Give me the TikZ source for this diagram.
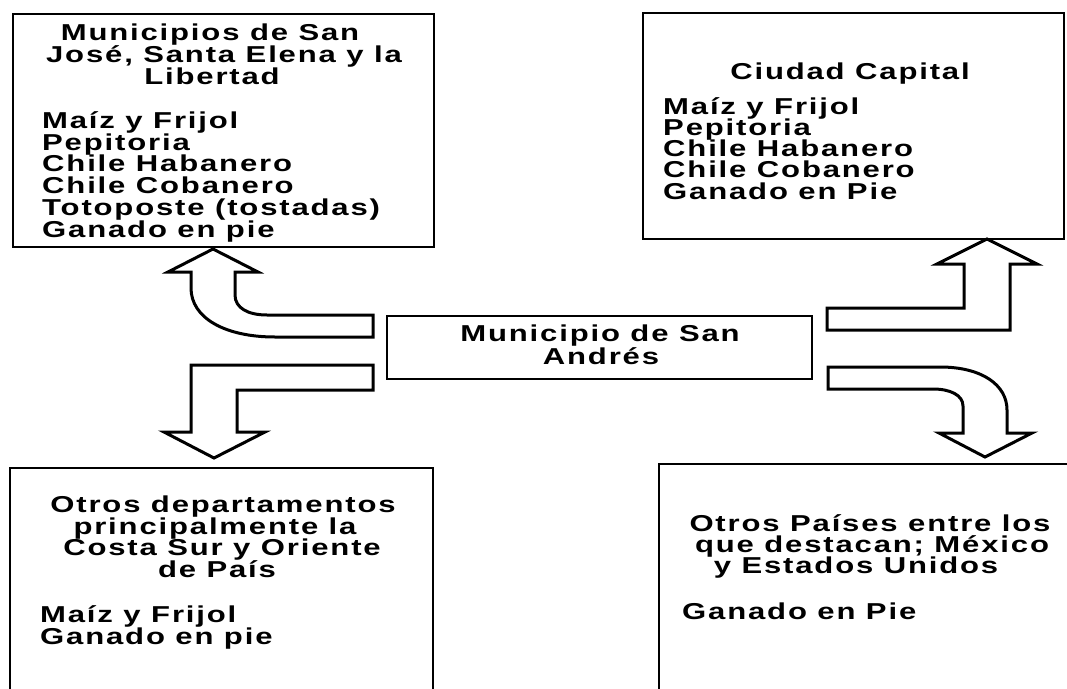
\documentclass[tikz,border=0pt]{standalone}
\usepackage{fontspec}
\setmainfont{Liberation Sans}[FakeStretch=1.35,LetterSpace=8]
\begin{document}
\begin{tikzpicture}[x=1pt,y=-1pt,
  box/.style={draw, line width=2pt, inner sep=0pt},
  blk/.style={draw, line width=3pt, line join=miter},
  txt/.style={inner sep=0pt, font=\bfseries\fontsize{23}{23}\selectfont},
  lt/.style={txt, anchor=base west},
  ct/.style={txt, anchor=base}]
\useasboundingbox (0,0) rectangle (1067,688);
\clip (0,0) rectangle (1067,688);
% boxes
\node[box, minimum width=421pt, minimum height=233pt] (tl) at (223.5,130.5) {};
\node[box, minimum width=421pt, minimum height=226pt] (tr) at (853.5,126) {};
\node[box, minimum width=425pt, minimum height=63pt] (c) at (599.5,347.5) {};
\node[box, minimum width=423pt, minimum height=252pt] (bl) at (221.5,594) {};
\node[box, minimum width=431pt, minimum height=256pt] (br) at (874.5,592) {};
% top-left texts
\node[ct] (tl1) at (210,40) {Municipios de San};
\node[ct] (tl2) at (224,62) {José, Santa Elena y la};
\node[ct] (tl3) at (212,84) {Libertad};
\node[lt] (tl4) at (42,128) {Maíz y Frijol};
\node[lt] (tl5) at (42,150) {Pepitoria};
\node[lt] (tl6) at (42,171) {Chile Habanero};
\node[lt] (tl7) at (42,193) {Chile Cobanero};
\node[lt] (tl8) at (42,215) {Totoposte (tostadas)};
\node[lt] (tl9) at (42,237) {Ganado en pie};
% top-right texts
\node[ct] (tr1) at (850,79) {Ciudad Capital};
\node[lt] (tr2) at (663,114) {Maíz y Frijol};
\node[lt] (tr3) at (663,135) {Pepitoria};
\node[lt] (tr4) at (663,156) {Chile Habanero};
\node[lt] (tr5) at (663,177) {Chile Cobanero};
\node[lt] (tr6) at (663,199) {Ganado en Pie};
% center texts
\node[ct] (c1) at (600,341) {Municipio de San};
\node[ct] (c2) at (601,364) {Andrés};
% bottom-left texts
\node[ct] (bl1) at (223,512) {Otros departamentos};
\node[ct] (bl2) at (215,534) {principalmente la};
\node[ct] (bl3) at (222,555) {Costa Sur y Oriente};
\node[ct] (bl4) at (217,577) {de País};
\node[lt] (bl5) at (40,622) {Maíz y Frijol};
\node[lt] (bl6) at (40,644) {Ganado en pie};
% bottom-right texts
\node[ct] (br1) at (870,531) {Otros Países entre los};
\node[ct] (br2) at (872,552) {que destacan; México};
\node[ct] (br3) at (856,573) {y Estados Unidos};
\node[lt] (br4) at (682,619) {Ganado en Pie};
% block arrows
\draw[blk] (373,315) -- (267,315) .. controls (248,315) and (235,308) .. (235,295)
  -- (235,272) -- (258,272) -- (213,249) -- (168,272) -- (191,272) -- (191,288)
  .. controls (191,318) and (225,337) .. (275,337) -- (373,337) -- cycle;
\draw[blk] (191,365) -- (373,365) -- (373,390) -- (237,390) -- (237,432) -- (265,432)
  -- (214,458) -- (164,432) -- (191,432) -- cycle;
\draw[blk] (827,308) -- (964,308) -- (964,264) -- (937,264) -- (987,239) -- (1037,264)
  -- (1010,264) -- (1010,330) -- (827,330) -- cycle;
\draw[blk] (828,367) -- (940,367) .. controls (982,367) and (1007,385) .. (1007,410)
  -- (1007,433) -- (1032,433) -- (985,457) -- (939,433) -- (963,433) -- (963,406)
  .. controls (963,395) and (950,389) .. (933,389) -- (828,389) -- cycle;
\end{tikzpicture}
\end{document}
